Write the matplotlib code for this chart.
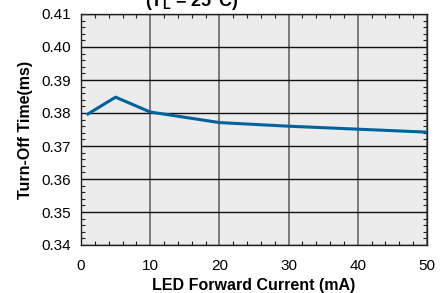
import matplotlib
matplotlib.use('Agg')
import matplotlib.pyplot as plt
from matplotlib.ticker import MultipleLocator

plt.rcParams['font.family'] = ['Liberation Sans', 'DejaVu Sans']

# LED forward current (mA) vs turn-off time (ms)
current_ma = [1, 5, 10, 20, 30, 40, 50]
turn_off_ms = [0.3797, 0.3848, 0.3803, 0.3771, 0.3760, 0.3751, 0.3742]

fig = plt.figure(figsize=(4.46, 2.93), dpi=100)
ax = fig.add_axes([81/446, 1 - 245/293, 346/446, 231/293])
ax.set_facecolor('#ececec')

ax.plot(current_ma, turn_off_ms, color='#00629b', lw=2.2, zorder=3)

ax.set_xlim(0, 50)
ax.set_ylim(0.34, 0.41)
ax.xaxis.set_major_locator(MultipleLocator(10))
ax.xaxis.set_minor_locator(MultipleLocator(2))
ax.yaxis.set_major_locator(MultipleLocator(0.01))
ax.yaxis.set_minor_locator(MultipleLocator(0.002))
ax.yaxis.set_major_formatter(plt.FuncFormatter(lambda v, p: f'{v:.2f}'))

ax.grid(axis='x', which='major', color='#666666', lw=1.2)
ax.grid(axis='y', which='major', color='#111111', lw=1.0)
ax.tick_params(which='both', direction='in', top=True, right=True,
               labelsize=11, color='#222222')
ax.tick_params(axis='y', which='major', length=0, pad=7)
ax.tick_params(axis='x', which='major', length=0, pad=10)
ax.tick_params(which='minor', length=3, width=0.8)
for s in ax.spines.values():
    s.set_color('#222222')
    s.set_linewidth(1.0)

ax.set_xlabel('LED Forward Current (mA)', fontsize=11.5, fontweight='bold', labelpad=4)
ax.set_ylabel('Turn-Off Time(ms)', fontsize=11.5, fontweight='bold', labelpad=6)

# title is cut off at the top of the image
fig.text(0.43, 1 - 6/293, '(T$_\\mathregular{L}$ = 25°C)', ha='center',
         va='baseline', fontsize=13, fontweight='bold')

fig.savefig('out.png', dpi=100)
